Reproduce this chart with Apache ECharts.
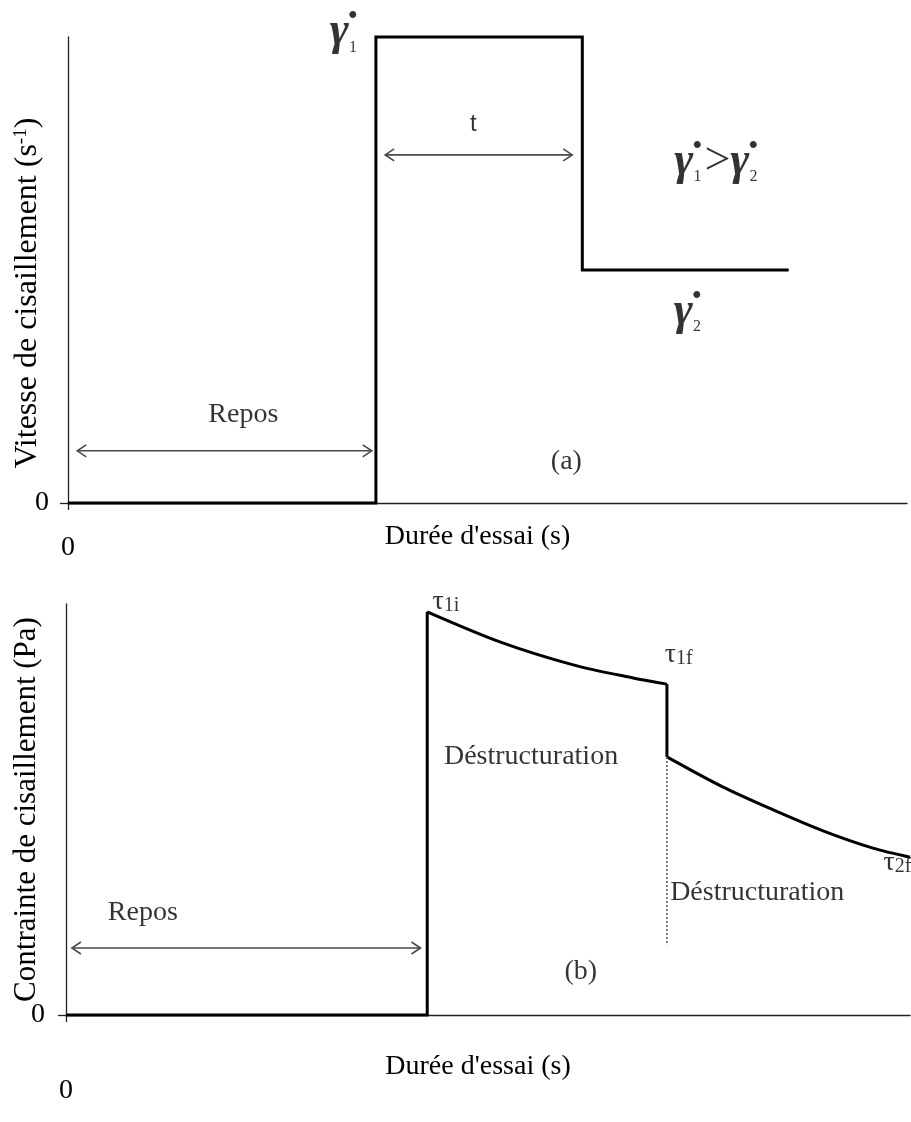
<!DOCTYPE html>
<html>
<head>
<meta charset="utf-8">
<script src="https://cdn.jsdelivr.net/npm/echarts@6/dist/echarts.min.js"></script>
<style>
  html, body { margin: 0; padding: 0; background: #fff; }
  #chart { width: 911px; height: 1122px; }
</style>
</head>
<body>
<div id="chart"></div>
<script>
// ---- (a) imposed shear-rate programme (arbitrary units, 0-100) ----
const rateX = [0, 36.7, 36.7, 61.3, 61.3, 85.9];
const rateY = [0, 0, 100, 100, 50, 50];

// ---- (b) measured shear-stress response ----
const restX = [0, 42.8, 42.8];
const restY = [0, 0, 98.1];
const decay1X = [42.8, 51.4, 60.1, 67.2, 71.2];
const decay1Y = [98.1, 90.8, 85.2, 82.0, 80.5];
const dropX = [71.2, 71.2];
const dropY = [80.5, 62.8];
const decay2X = [71.2, 77.8, 83.8, 89.7, 95.6, 100];
const decay2Y = [62.8, 55.5, 49.9, 44.8, 40.6, 38.4];
const guideX = [71.2, 71.2];
const guideY = [62.8, 17.0];

// double-headed arrows: [xStart, xEnd, y]
const arrowsA = [[1.1, 36.2, 11.2], [37.8, 60.1, 74.7]];
const arrowsB = [[0.7, 42.0, 16.3]];

// annotations: [x, y, rich text]
const notesA = [
  [33.0, 101.0, '{g|γ\u0307}{s|1}'],
  [48.3, 81.3, '{t|t}'],
  [77.4, 73.2, '{g|γ\u0307}{s|1}{op|>}{g|γ\u0307}{s|2}'],
  [74.0, 41.0, '{g|γ\u0307}{s|2}'],
  [20.9, 18.9, '{n|Repos}'],
  [59.4, 8.8, '{n|(a)}']
];
const notesB = [
  [45.0, 100.5, '{tau|τ}{ts|1i}'],
  [72.6, 87.6, '{tau|τ}{ts|1f}'],
  [55.1, 62.8, '{n|Déstructuration}'],
  [98.5, 37.0, '{tau|τ}{ts|2f}'],
  [81.9, 29.7, '{n|Déstructuration}'],
  [9.1, 24.8, '{n|Repos}'],
  [61.0, 10.5, '{n|(b)}']
];

const xTitle = "Durée d'essai (s)";
const yTitleA = 'Vitesse de cisaillement (s{sup|-1})';
const yTitleB = 'Contrainte de cisaillement (Pa)';
const zeroTick = [0];

const SERIF = 'Liberation Serif';
const rich = {
  g: { fontFamily: SERIF, fontSize: 46, fontStyle: 'italic', fontWeight: 'bold', color: '#000' },
  s: { fontFamily: SERIF, fontSize: 16, color: '#000', verticalAlign: 'bottom', padding: [0, 3, 0, 0] },
  op: { fontFamily: SERIF, fontSize: 46, color: '#000' },
  t: { fontFamily: 'Liberation Sans', fontSize: 24, color: '#000' },
  n: { fontFamily: SERIF, fontSize: 28, color: '#000' },
  tau: { fontFamily: SERIF, fontSize: 28, color: '#000' },
  ts: { fontFamily: SERIF, fontSize: 20, color: '#000', verticalAlign: 'bottom' }
};

function pairs(xs, ys) { return xs.map((x, i) => [x, ys[i]]); }

function xAxisFor(gridIndex, labelMargin, gap) {
  return {
    type: 'value', gridIndex, min: 0, max: 100,
    axisLine: { show: true, lineStyle: { color: '#222', width: 1.3 } },
    splitLine: { show: false },
    axisTick: { show: true, customValues: zeroTick, length: 7, lineStyle: { color: '#222', width: 1.3 } },
    axisLabel: { customValues: zeroTick, margin: labelMargin, fontFamily: SERIF, fontSize: 28, color: '#000' },
    name: xTitle, nameLocation: 'middle', nameGap: gap, nameMoveOverlap: false,
    nameTextStyle: { fontFamily: SERIF, fontSize: 28, color: '#000', padding: [0, 20, 0, 0] }
  };
}
function yAxisFor(gridIndex, title, labelMargin, shift, size) {
  return {
    type: 'value', gridIndex, min: 0, max: 100,
    axisLine: { show: true, lineStyle: { color: '#222', width: 1.3 } },
    splitLine: { show: false },
    axisTick: { show: true, customValues: zeroTick, length: 8, lineStyle: { color: '#222', width: 1.3 } },
    axisLabel: { customValues: zeroTick, margin: labelMargin, fontFamily: SERIF, fontSize: 28, color: '#000' },
    name: title, nameLocation: 'middle', nameGap: 24, nameMoveOverlap: false,
    nameTextStyle: {
      fontFamily: SERIF, fontSize: size, color: '#000',
      padding: [0, shift, 0, 0],
      rich: { sup: { fontFamily: SERIF, fontSize: 19, color: '#000', verticalAlign: 'top' } }
    }
  };
}

function curve(idx, xs, ys, smooth) {
  return {
    type: 'line', xAxisIndex: idx, yAxisIndex: idx, data: pairs(xs, ys),
    showSymbol: false, smooth: smooth, silent: true, clip: false,
    lineStyle: { color: '#000', width: 3, join: 'miter' }
  };
}

function arrowSeries(idx, rows) {
  return {
    type: 'custom', xAxisIndex: idx, yAxisIndex: idx, data: rows, silent: true, clip: false,
    renderItem(params, api) {
      const a = api.coord([api.value(0), api.value(2)]);
      const b = api.coord([api.value(1), api.value(2)]);
      const w = 9, h = 6;
      const st = { stroke: '#4a4a4a', lineWidth: 1.6, fill: null };
      return {
        type: 'group', children: [
          { type: 'line', shape: { x1: a[0], y1: a[1], x2: b[0], y2: b[1] }, style: st },
          { type: 'polyline', shape: { points: [[a[0] + w, a[1] - h], a, [a[0] + w, a[1] + h]] }, style: st },
          { type: 'polyline', shape: { points: [[b[0] - w, b[1] - h], b, [b[0] - w, b[1] + h]] }, style: st }
        ]
      };
    }
  };
}

function noteSeries(idx, rows) {
  return {
    type: 'scatter', xAxisIndex: idx, yAxisIndex: idx, symbolSize: 0, silent: true, clip: false,
    data: rows.map(r => ({ value: [r[0], r[1]], label: { formatter: r[2] } })),
    label: { show: true, position: 'inside', align: 'center', verticalAlign: 'middle', rich: rich }
  };
}

const chart = echarts.init(document.getElementById('chart'), null, { renderer: 'canvas' });
chart.setOption({
  backgroundColor: '#fff',
  animation: false,
  grid: [
    { left: 68, top: 37, width: 839, height: 466, containLabel: false, outerBoundsMode: 'none' },
    { left: 66, top: 604, width: 844, height: 411, containLabel: false, outerBoundsMode: 'none' }
  ],
  xAxis: [xAxisFor(0, 31, 20), xAxisFor(1, 62, 38)],
  yAxis: [yAxisFor(0, yTitleA, 19, 46, 32), yAxisFor(1, yTitleB, 21, 0, 31)],
  series: [
    curve(0, rateX, rateY, false),
    curve(1, restX, restY, false),
    curve(1, decay1X, decay1Y, 0.3),
    curve(1, dropX, dropY, false),
    curve(1, decay2X, decay2Y, 0.3),
    {
      type: 'line', xAxisIndex: 1, yAxisIndex: 1, data: pairs(guideX, guideY),
      showSymbol: false, silent: true,
      lineStyle: { color: '#555', width: 1.5, type: [2, 2] }
    },
    arrowSeries(0, arrowsA),
    arrowSeries(1, arrowsB),
    noteSeries(0, notesA),
    noteSeries(1, notesB)
  ]
});
</script>
</body>
</html>
